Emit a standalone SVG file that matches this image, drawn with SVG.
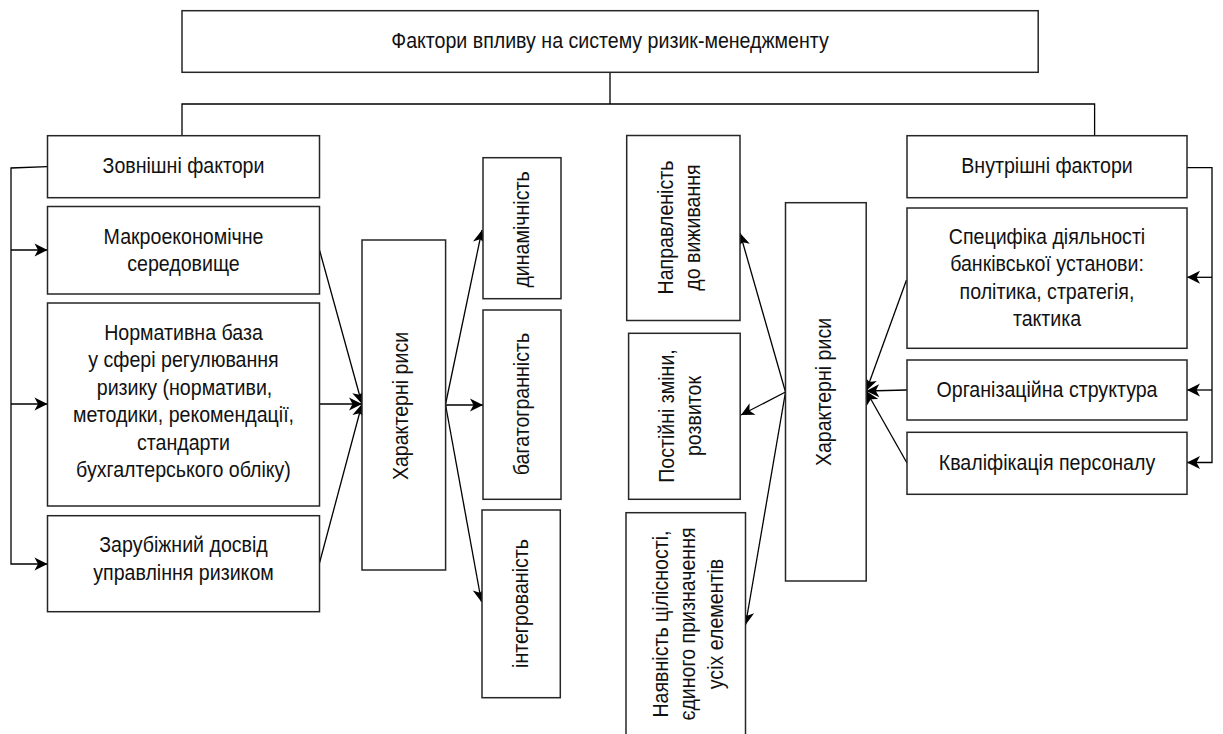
<svg xmlns="http://www.w3.org/2000/svg" width="1223" height="734" viewBox="0 0 1223 734">
<style>
.box{fill:#fff;stroke:#262626;stroke-width:1.5}
.t{font-family:"Liberation Sans",Arial,sans-serif;font-size:22.4px;fill:#111;text-anchor:middle}
.c{fill:none;stroke:#000;stroke-width:1.3}
.a{marker-end:url(#arr)}
</style>
<defs>
<marker id="arr" markerUnits="userSpaceOnUse" markerWidth="16" markerHeight="16" viewBox="-15 -8 16 16" refX="0" refY="0" orient="auto">
<path d="M0,0 L-13,-6.5 L-9.5,0 L-13,6.5 Z" fill="#000"/>
</marker>
</defs>
<rect width="1223" height="734" fill="#fff"/>

<g id="connectors">
<path class="c" d="M610,72.3 V104 M182,136 V104 H1094.6 V136"/>
<path class="c a" d="M47.5,166.7 L11,168 V564 H47.5"/>
<path class="c a" d="M11,250 H47.5"/>
<path class="c a" d="M11,404 H47.5"/>
<path class="c a" d="M319.5,250 L362,404"/>
<path class="c a" d="M319.5,404 L362,404"/>
<path class="c a" d="M319.5,563 L362,404"/>
<path class="c a" d="M445.6,404 L482,230"/>
<path class="c a" d="M445.6,405 L483,405"/>
<path class="c a" d="M445.6,405 L481.5,602"/>
<path class="c a" d="M785.5,392 L740,233"/>
<path class="c a" d="M785.5,392 L741,415"/>
<path class="c a" d="M785.5,392 L745.5,625"/>
<path class="c a" d="M906.5,280 L866.2,391"/>
<path class="c a" d="M907,390 L866.2,391"/>
<path class="c a" d="M907,463 L866.2,391"/>
<path class="c a" d="M1187,167.7 H1212 V462.5 H1187"/>
<path class="c a" d="M1212,277.3 H1187"/>
<path class="c a" d="M1212,390 H1187"/>
</g>

<g id="title">
<rect class="box" x="182" y="10.7" width="856.2" height="61.6"/>
<text class="t" transform="translate(610,48) scale(0.875,1)">Фактори впливу на систему ризик-менеджменту</text>
</g>

<g id="external">
<rect class="box" x="47.5" y="135.7" width="272" height="62"/>
<text class="t" transform="translate(183.5,172.7) scale(0.875,1)">Зовнішні фактори</text>
</g>
<g id="macro">
<rect class="box" x="47.5" y="206.5" width="272" height="87.5"/>
<text class="t" transform="translate(183.5,243.5) scale(0.875,1)">Макроекономічне</text>
<text class="t" transform="translate(183.5,271) scale(0.875,1)">середовище</text>
</g>
<g id="normative">
<rect class="box" x="47.5" y="303" width="272" height="203"/>
<text class="t" transform="translate(183.5,340) scale(0.875,1)">Нормативна база</text>
<text class="t" transform="translate(183.5,367.4) scale(0.875,1)">у сфері регулювання</text>
<text class="t" transform="translate(184.5,394.8) scale(0.875,1)">ризику (нормативи,</text>
<text class="t" transform="translate(183.5,422.2) scale(0.875,1)">методики, рекомендації,</text>
<text class="t" transform="translate(183.5,449.6) scale(0.875,1)">стандарти</text>
<text class="t" transform="translate(183.5,477) scale(0.875,1)">бухгалтерського обліку)</text>
</g>
<g id="foreign">
<rect class="box" x="47.5" y="515.7" width="272" height="96"/>
<text class="t" transform="translate(183.5,552) scale(0.875,1)">Зарубіжний досвід</text>
<text class="t" transform="translate(183.5,580) scale(0.875,1)">управління ризиком</text>
</g>

<g id="features-left">
<rect class="box" x="362" y="240" width="83.6" height="330"/>
<text class="t" transform="translate(408,406) rotate(-90) scale(0.875,1)">Характерні риси</text>
</g>
<g id="dynamism">
<rect class="box" x="483" y="157.7" width="78" height="141"/>
<text class="t" transform="translate(529,229.5) rotate(-90) scale(0.875,1)">динамічність</text>
</g>
<g id="multifaceted">
<rect class="box" x="483" y="310" width="78" height="189.3"/>
<text class="t" transform="translate(528.5,404) rotate(-90) scale(0.875,1)">багатогранність</text>
</g>
<g id="integration">
<rect class="box" x="482" y="510" width="78.3" height="187.7"/>
<text class="t" transform="translate(528,603.5) rotate(-90) scale(0.875,1)">інтегрованість</text>
</g>

<g id="survival">
<rect class="box" x="626.7" y="135.5" width="113.3" height="185"/>
<text class="t" transform="translate(672.7,227.5) rotate(-90) scale(0.875,1)">Направленість</text>
<text class="t" transform="translate(700,227.5) rotate(-90) scale(0.875,1)">до виживання</text>
</g>
<g id="changes">
<rect class="box" x="628.6" y="333.3" width="111.6" height="166"/>
<text class="t" transform="translate(673.6,416) rotate(-90) scale(0.875,1)">Постійні зміни,</text>
<text class="t" transform="translate(701,416) rotate(-90) scale(0.875,1)">розвиток</text>
</g>
<g id="integrity">
<rect class="box" x="626" y="512.7" width="119.5" height="224"/>
<text class="t" transform="translate(667.7,624) rotate(-90) scale(0.875,1)">Наявність цілісності,</text>
<text class="t" transform="translate(695,624) rotate(-90) scale(0.875,1)">єдиного призначення</text>
<text class="t" transform="translate(722.5,624) rotate(-90) scale(0.875,1)">усіх елементів</text>
</g>

<g id="features-right">
<rect class="box" x="785.5" y="202.7" width="80.7" height="378.3"/>
<text class="t" transform="translate(830.5,392) rotate(-90) scale(0.875,1)">Характерні риси</text>
</g>

<g id="internal">
<rect class="box" x="907" y="135.7" width="280" height="62"/>
<text class="t" transform="translate(1047,172.7) scale(0.875,1)">Внутрішні фактори</text>
</g>
<g id="specifics">
<rect class="box" x="907" y="208" width="280" height="140.3"/>
<text class="t" transform="translate(1047,243.5) scale(0.875,1)">Специфіка діяльності</text>
<text class="t" transform="translate(1047,271) scale(0.875,1)">банківської установи:</text>
<text class="t" transform="translate(1047,298.5) scale(0.875,1)">політика, стратегія,</text>
<text class="t" transform="translate(1047,326) scale(0.875,1)">тактика</text>
</g>
<g id="structure">
<rect class="box" x="907" y="360" width="280" height="60"/>
<text class="t" transform="translate(1047,397) scale(0.875,1)">Організаційна структура</text>
</g>
<g id="staff">
<rect class="box" x="907" y="432.3" width="280" height="62"/>
<text class="t" transform="translate(1047,470) scale(0.875,1)">Кваліфікація персоналу</text>
</g>
</svg>
